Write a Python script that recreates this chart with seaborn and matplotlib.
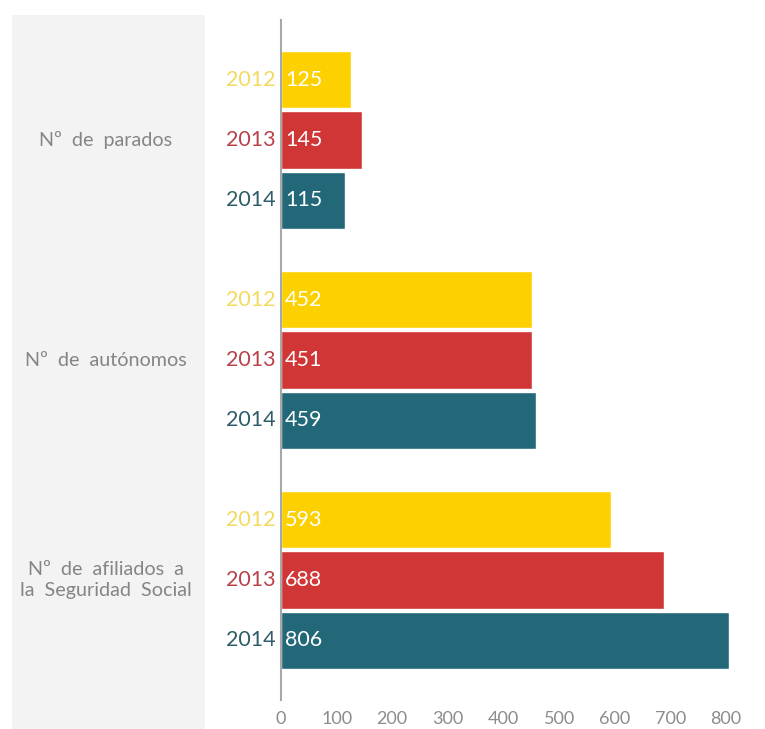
import matplotlib
matplotlib.use("Agg")
import matplotlib.pyplot as plt
import matplotlib.transforms as mtransforms
from matplotlib.patches import Rectangle
import seaborn as sns
import pandas as pd

categories = ["Nº  de  parados", "Nº  de  autónomos", "Nº  de  afiliados  a\nla  Seguridad  Social"]
years = ["2012", "2013", "2014"]
values_2012 = [125, 452, 593]
values_2013 = [145, 451, 688]
values_2014 = [115, 459, 806]
x_ticks = [0, 100, 200, 300, 400, 500, 600, 700, 800]

colors = ["#FDD000", "#CF3635", "#236878"]
year_text_colors = ["#F2DA5E", "#B8414A", "#2E5C69"]

rows = []
for i, c in enumerate(categories):
    for y, vals in zip(years, [values_2012, values_2013, values_2014]):
        rows.append({"cat": c, "year": y, "value": vals[i]})
df = pd.DataFrame(rows)

sns.set_style("white")
plt.rcParams["font.family"] = ["Lato", "DejaVu Sans"]

fig = plt.figure(figsize=(7.65, 7.29), dpi=100)
fig.patch.set_facecolor("white")
fig.add_artist(Rectangle((12 / 765, 0), (205 - 12) / 765, 1 - 15 / 729,
                         transform=fig.transFigure, facecolor="#F3F3F3",
                         edgecolor="none", zorder=0))

ax = fig.add_axes([281 / 765, 29 / 729, 1 - 281 / 765, (700 - 20) / 729])
ax.set_facecolor("none")
sns.barplot(data=df, y="cat", x="value", hue="year", orient="h",
            palette=colors, width=0.82, gap=0.05, ax=ax, legend=False,
            saturation=1)

ax.set_xlim(0, 870)
ax.set_ylim(2.545, -0.545)
ax.set_xticks(x_ticks)
ax.set_xticklabels([str(t) for t in x_ticks], color="#8C8C8C", fontsize=13)
ax.tick_params(axis="x", length=0, pad=8)
ax.set_yticks([])
ax.set_xlabel("")
ax.set_ylabel("")
for s in ["top", "right", "bottom"]:
    ax.spines[s].set_visible(False)
ax.spines["left"].set_color("#A8A8A8")
ax.spines["left"].set_linewidth(1.5)

# value and year labels
for hue_idx, container in enumerate(ax.containers):
    for bar in container:
        yc = bar.get_y() + bar.get_height() / 2
        val = bar.get_width()
        ax.annotate(f"{int(val)}", xy=(0, yc), xytext=(3, 0),
                    textcoords="offset points", ha="left", va="center",
                    color="white", fontsize=15.5)
        ax.annotate(years[hue_idx], xy=(0, yc), xytext=(-4, 0),
                    textcoords="offset points", ha="right", va="center",
                    color=year_text_colors[hue_idx], fontsize=15.5,
                    annotation_clip=False)

trans = mtransforms.blended_transform_factory(fig.transFigure, ax.transData)
for i, c in enumerate(categories):
    ax.text(106 / 765, i, c, transform=trans, ha="center", va="center",
            color="#858585", fontsize=14.2, linespacing=1.25)

fig.savefig("out.png", dpi=100)
